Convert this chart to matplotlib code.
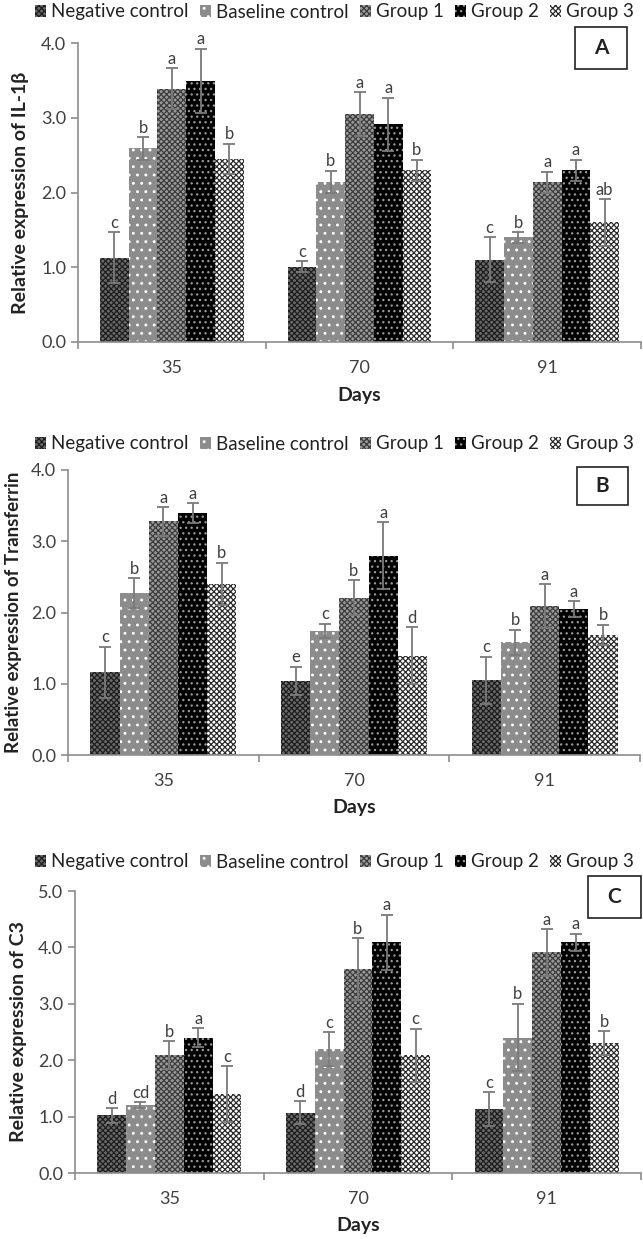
import matplotlib
matplotlib.use("Agg")
import matplotlib.pyplot as plt
from matplotlib.patches import Rectangle, Patch

plt.rcParams['font.family'] = ['Lato', 'DejaVu Sans']
plt.rcParams['hatch.linewidth'] = 0.9

days = ["35", "70", "91"]
groups = ["Negative control", "Baseline control", "Group 1", "Group 2", "Group 3"]

# rows = days, columns = groups
il1b_mean = [[1.13, 2.59, 3.39, 3.49, 2.45],
             [1.01, 2.14, 3.05, 2.91, 2.30],
             [1.10, 1.40, 2.14, 2.30, 1.60]]
il1b_err = [[0.34, 0.15, 0.27, 0.43, 0.20],
            [0.07, 0.15, 0.29, 0.36, 0.14],
            [0.30, 0.07, 0.14, 0.14, 0.31]]
il1b_letters = [["c", "b", "a", "a", "b"],
                ["c", "b", "a", "a", "b"],
                ["c", "b", "a", "a", "ab"]]

tf_mean = [[1.16, 2.27, 3.28, 3.39, 2.40],
           [1.04, 1.74, 2.21, 2.80, 1.39],
           [1.05, 1.58, 2.09, 2.05, 1.69]]
tf_err = [[0.36, 0.21, 0.20, 0.14, 0.30],
          [0.20, 0.10, 0.24, 0.47, 0.40],
          [0.33, 0.18, 0.31, 0.11, 0.14]]
tf_letters = [["c", "b", "a", "a", "b"],
              ["e", "c", "b", "a", "d"],
              ["c", "b", "a", "a", "b"]]

c3_mean = [[1.02, 1.21, 2.09, 2.40, 1.40],
           [1.07, 2.20, 3.61, 4.09, 2.09],
           [1.13, 2.40, 3.91, 4.09, 2.30]]
c3_err = [[0.13, 0.05, 0.25, 0.17, 0.49],
          [0.20, 0.30, 0.55, 0.49, 0.47],
          [0.30, 0.60, 0.41, 0.15, 0.21]]
c3_letters = [["d", "cd", "b", "a", "c"],
              ["d", "c", "b", "a", "c"],
              ["c", "b", "a", "a", "b"]]

# Excel-like fill patterns
styles = [
    dict(facecolor="#6a6a6a", edgecolor="#1e1e1e", hatch="xxxxxx"),
    dict(facecolor="#8c8c8c", edgecolor="white", hatch=".."),
    dict(facecolor="#9a9a9a", edgecolor="#3c3c3c", hatch="xxxxxx"),
    dict(facecolor="black", edgecolor="#9a9a9a", hatch="..."),
    dict(facecolor="white", edgecolor="#2a2a2a", hatch="xxxxxx"),
]

bar_w = 0.153
text_col = "#404040"
axis_col = "#8c8c8c"


def draw_panel(fig, rect, means, errs, letters, ylabel, ymax, label, box,
               legend_y, days_y, ylab_x, ylab_size):
    ax = fig.add_axes(rect)
    for g in range(len(groups)):
        xs = [d + (g - 2) * bar_w for d in range(len(days))]
        vals = [means[d][g] for d in range(len(days))]
        ers = [errs[d][g] for d in range(len(days))]
        ax.bar(xs, vals, width=bar_w, linewidth=0, zorder=2, **styles[g])
        ax.errorbar(xs, vals, yerr=ers, fmt="none", ecolor="#7a7a7a",
                    elinewidth=1.3, capsize=4, capthick=1.3, zorder=3)
        for x, v, e, d in zip(xs, vals, ers, range(len(days))):
            ax.text(x, v + e + 0.02 * ymax / 4, letters[d][g], ha="center", va="bottom",
                    fontsize=12, color=text_col, zorder=4)

    ax.set_xlim(-0.5, 2.5)
    ax.set_ylim(0, ymax)
    ax.set_yticks([i for i in range(int(ymax) + 1)])
    ax.set_yticklabels([f"{i:.1f}" for i in range(int(ymax) + 1)])
    ax.set_xticks([-0.5, 0.5, 1.5, 2.5])
    ax.set_xticklabels([])
    ax.set_xticks([0, 1, 2], minor=True)
    ax.set_xticklabels(days, minor=True)
    ax.tick_params(axis="x", which="major", length=5, color=axis_col, width=1.2)
    ax.tick_params(axis="x", which="minor", length=0, pad=13, labelsize=13, labelcolor=text_col)
    ax.tick_params(axis="y", length=5, color=axis_col, width=1.2, labelsize=13, labelcolor=text_col)
    for s in ["top", "right"]:
        ax.spines[s].set_visible(False)
    for s in ["left", "bottom"]:
        ax.spines[s].set_color(axis_col)
        ax.spines[s].set_linewidth(1.2)

    # label coords give the right-hand edge of the rotated text
    ax.set_ylabel(ylabel, fontsize=ylab_size, fontweight="bold", color="#222222")
    ax.yaxis.set_label_coords((ylab_x - rect[0] * 643) / (rect[2] * 643), 0.5)

    fig.text(rect[0] + rect[2] / 2, 1 - days_y / 1239, "Days", ha="center",
             va="center", fontsize=14, fontweight="bold", color="#222222")

    handles = [Patch(linewidth=0, **st) for st in styles]
    fig.legend(handles, groups, loc="center", bbox_to_anchor=(0.52, 1 - legend_y / 1239),
               ncol=5, frameon=False, fontsize=13.5, handlelength=0.6, handleheight=0.6,
               handletextpad=0.25, columnspacing=0.6, labelcolor="#222222",
               borderpad=0, borderaxespad=0)

    bx, by, bw, bh = box
    fig.add_artist(Rectangle((bx / 643, 1 - (by + bh) / 1239), bw / 643, bh / 1239,
                             transform=fig.transFigure, facecolor="white",
                             edgecolor="#222222", linewidth=1.2))
    fig.text((bx + bw / 2) / 643, 1 - (by + bh / 2) / 1239, label, ha="center", va="center",
             fontsize=15, fontweight="bold", color="#222222")
    return ax


fig = plt.figure(figsize=(6.43, 12.39), dpi=100)

draw_panel(fig, [78 / 643, 1 - 342 / 1239, 563 / 643, 299 / 1239],
           il1b_mean, il1b_err, il1b_letters, "Relative expression of IL-1β", 4.0,
           "A", (575, 27, 52, 42), 12, 395, 29, 14)
draw_panel(fig, [68 / 643, 1 - 755 / 1239, 572 / 643, 285 / 1239],
           tf_mean, tf_err, tf_letters, "Relative expression of Transferrin", 4.0,
           "B", (577, 467, 51, 38), 444, 808, 22, 13.5)
draw_panel(fig, [75 / 643, 1 - 1173 / 1239, 566 / 643, 282 / 1239],
           c3_mean, c3_err, c3_letters, "Relative expression of C3", 5.0,
           "C", (588, 876, 53, 42), 862, 1225, 27, 14)

fig.savefig("out.png", dpi=100)
